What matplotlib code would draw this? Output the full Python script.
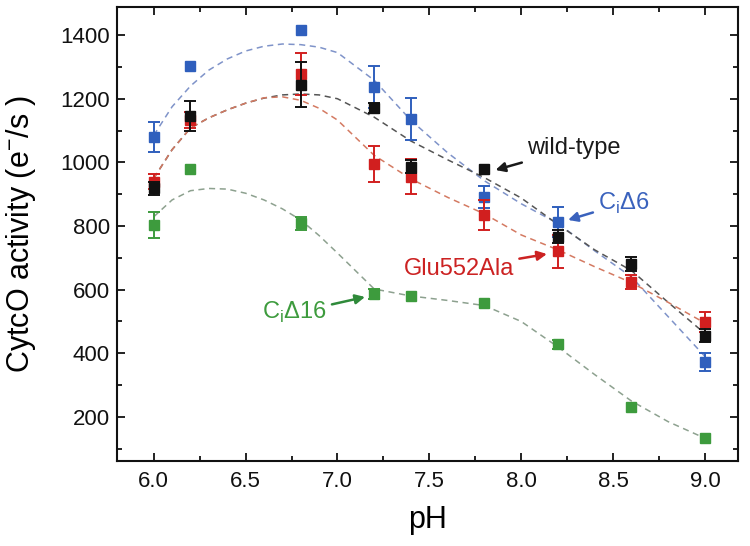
import numpy as np
import matplotlib
matplotlib.use("Agg")
import matplotlib.pyplot as plt

plt.rcParams['font.family'] = ['Liberation Sans', 'DejaVu Sans']

ph = [6.0, 6.2, 6.8, 7.2, 7.4, 7.8, 8.2, 8.6, 9.0]
nan = np.nan

# measured activities (e-/s) and error bars
wt = [918, 1146, 1244, 1171, 986, 978, 766, 681, 455]
wt_err = [20, 48, 70, 15, 20, nan, 20, 23, 20]
glu = [939, 1133, 1278, 995, 955, 835, 721, 625, 499]
glu_err = [24, 25, 65, 56, 55, 48, 52, 22, 32]
ci6 = [1081, 1303, 1416, 1238, 1136, 892, 813, nan, 373]
ci6_err = [47, nan, nan, 66, 67, 35, 47, nan, 28]
ci16 = [803, 979, 808, 586, 580, 557, 428, 232, 133]
ci16_err = [40, nan, 20, 15, nan, nan, 13, nan, nan]

# dashed guide curves
ph_fit = [6.0, 6.1, 6.2, 6.3, 6.4, 6.5, 6.6, 6.7, 6.8, 6.9, 7.0, 7.2, 7.4, 7.6,
          7.8, 8.0, 8.2, 8.4, 8.6, 8.8, 9.0]
ci6_fit = [1085, 1175, 1240, 1290, 1325, 1350, 1365, 1372, 1370, 1362, 1345, 1258,
           1132, 1030, 942, 870, 808, 722, 640, 515, 390]
wt_fit = [950, 1040, 1108, 1140, 1165, 1186, 1202, 1212, 1215, 1212, 1200, 1142,
          1067, 1008, 952, 888, 805, 725, 660, 560, 462]
glu_fit = [950, 1040, 1108, 1140, 1165, 1186, 1203, 1206, 1195, 1170, 1133, 1022,
           948, 890, 838, 772, 725, 672, 622, 560, 495]
ci16_fit = [829, 882, 911, 918, 916, 903, 882, 854, 819, 770, 715, 602,
            580, 566, 550, 500, 420, 333, 250, 185, 133]

fig = plt.figure(figsize=(7.5, 5.46), dpi=100)
ax = fig.add_axes([0.156, 0.156, 0.828, 0.831])

dash = (0, (4, 3))
ax.plot(ph_fit, ci6_fit, color='#7f93c9', lw=1.1, ls=dash, zorder=1)
ax.plot(ph_fit, wt_fit, color='#555555', lw=1.1, ls=dash, zorder=1)
ax.plot(ph_fit, glu_fit, color='#d47a62', lw=1.1, ls=dash, zorder=1)
ax.plot(ph_fit, ci16_fit, color='#8da18f', lw=1.1, ls=dash, zorder=1)

def series(y, err, col, z):
    ax.errorbar(ph, y, yerr=err, fmt='s', color=col, ms=7.5, mec=col,
                elinewidth=1.4, capsize=4.5, capthick=1.4, zorder=z)

series(ci6, ci6_err, '#2f5fbd', 2)
series(glu, glu_err, '#d11f1f', 3)
series(wt, wt_err, '#111111', 4)
series(ci16, ci16_err, '#3d9b3d', 5)

arw = dict(arrowstyle='-|>', lw=1.8, mutation_scale=14, shrinkA=2, shrinkB=0)
ax.annotate('wild-type', xy=(7.86, 976), xytext=(8.03, 1045), color='#1a1a1a',
            fontsize=17, va='center', ha='left',
            arrowprops=dict(arw, color='#1a1a1a'))
ax.annotate('C$_\\mathregular{i}$\u03946', xy=(8.255, 819), xytext=(8.42, 872), color='#3a62bd',
            fontsize=17, va='center', ha='left',
            arrowprops=dict(arw, color='#3a62bd'))
ax.annotate('Glu552Ala', xy=(8.14, 712), xytext=(7.96, 665), color='#cc2222',
            fontsize=17, va='center', ha='right',
            arrowprops=dict(arw, color='#cc2222'))
ax.annotate('C$_\\mathregular{i}$\u039416', xy=(7.15, 577), xytext=(6.94, 527), color='#3d9b3d',
            fontsize=17, va='center', ha='right',
            arrowprops=dict(arw, color='#2f8a3a'))

ax.set_xlim(5.8, 9.18)
ax.set_ylim(62, 1488)
ax.set_xticks([6.0, 6.5, 7.0, 7.5, 8.0, 8.5, 9.0])
ax.set_xticks(np.arange(6.25, 9.0, 0.5), minor=True)
ax.set_yticks(range(200, 1401, 200))
ax.set_yticks(range(100, 1401, 200), minor=True)
ax.set_xticklabels(['6.0', '6.5', '7.0', '7.5', '8.0', '8.5', '9.0'])

ax.tick_params(which='both', direction='in', top=True, right=True, width=1.3,
               labelsize=16, colors='#111111')
ax.tick_params(axis='x', pad=7)
ax.tick_params(axis='y', pad=5)
ax.tick_params(which='major', length=6)
ax.tick_params(which='minor', length=3.5)
for s in ax.spines.values():
    s.set_linewidth(1.5)
    s.set_color('#111111')

ax.set_xlabel('pH', fontsize=22, labelpad=10)
ax.set_ylabel('CytcO activity (e$^{\\mathregular{-}}$/s )', fontsize=22, labelpad=16)

fig.savefig('out.png', dpi=100)
